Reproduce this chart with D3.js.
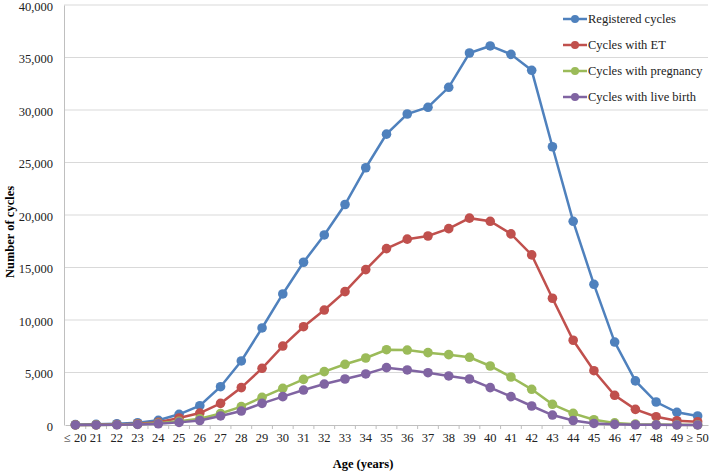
<!DOCTYPE html>
<html>
<head>
<meta charset="utf-8">
<script src="https://cdn.jsdelivr.net/npm/d3@7"></script>
</head>
<body style="margin:0">
<svg id="chart" width="709" height="472" style="font-family: 'Liberation Serif', Tinos, 'Times New Roman'"></svg>
<script>
const ages = ["≤ 20", "21", "22", "23", "24", "25", "26", "27", "28", "29", "30", "31", "32", "33", "34", "35",
  "36", "37", "38", "39", "40", "41", "42", "43", "44", "45", "46", "47", "48", "49", "≥ 50"];

const registered = [40, 60, 120, 220, 450, 1020, 1840, 3650, 6100, 9240, 12480, 15500, 18100, 21000, 24500, 27700,
  29620, 30260, 32160, 35430, 36100, 35300, 33780, 26500, 19400, 13400, 7900, 4200, 2190, 1210, 860];
const withET = [10, 20, 50, 120, 260, 670, 1140, 2060, 3560, 5400, 7520, 9360, 10950, 12700, 14800, 16800,
  17700, 18000, 18700, 19700, 19400, 18200, 16200, 12070, 8070, 5170, 2830, 1490, 790, 410, 310];
const withPregnancy = [5, 10, 30, 70, 170, 350, 600, 1100, 1750, 2640, 3490, 4350, 5080, 5780, 6380, 7170,
  7140, 6890, 6700, 6450, 5620, 4570, 3400, 1970, 1110, 500, 200, 80, 40, 20, 10];
const withLiveBirth = [3, 6, 20, 50, 120, 250, 430, 860, 1330, 2060, 2700, 3330, 3900, 4380, 4860, 5460,
  5240, 4980, 4670, 4380, 3560, 2700, 1810, 950, 430, 150, 60, 25, 12, 6, 3];

const yTicks = [0, 5000, 10000, 15000, 20000, 25000, 30000, 35000, 40000];

const series = [
  { name: "Registered cycles", values: registered, color: "#4F81BD" },
  { name: "Cycles with ET", values: withET, color: "#C0504D" },
  { name: "Cycles with pregnancy", values: withPregnancy, color: "#9BBB59" },
  { name: "Cycles with live birth", values: withLiveBirth, color: "#8064A2" }
];

const svg = d3.select("#chart");
const plotLeft = 65, plotRight = 708, plotTop = 5, plotBottom = 425;

const x = d3.scaleBand().domain(ages).range([plotLeft, plotRight]);
const y = d3.scaleLinear().domain([0, 40000]).range([plotBottom, plotTop]);

// gridlines
svg.append("g")
  .selectAll("line")
  .data(yTicks.slice(1))
  .join("line")
  .attr("x1", plotLeft - 1).attr("x2", plotRight)
  .attr("y1", d => y(d)).attr("y2", d => y(d))
  .attr("stroke", "#d9d9d9").attr("stroke-width", 1);

// y axis
const yAxis = svg.append("g")
  .attr("transform", `translate(${plotLeft - 1},0)`)
  .call(d3.axisLeft(y).tickValues(yTicks).tickFormat(d3.format(",")).tickSize(0).tickPadding(11));
yAxis.attr("font-family", null);
yAxis.select(".domain").attr("stroke", "#bfbfbf");
yAxis.selectAll("text").attr("font-size", 12.5).attr("fill", "#222").attr("dy", "0.4em");

// x axis
const xAxis = svg.append("g")
  .attr("transform", `translate(0,${plotBottom})`)
  .call(d3.axisBottom(x).tickSize(0).tickPadding(8));
xAxis.attr("font-family", null);
xAxis.select(".domain").attr("stroke", "#bfbfbf");
xAxis.selectAll("text").attr("font-size", 12.5).attr("fill", "#222");

// small ticks between categories
xAxis.append("g")
  .selectAll("line")
  .data(ages.slice(1))
  .join("line")
  .attr("x1", d => x(d)).attr("x2", d => x(d))
  .attr("y1", 0).attr("y2", 4)
  .attr("stroke", "#bfbfbf");

// axis titles
svg.append("text")
  .attr("x", 363).attr("y", 468)
  .attr("text-anchor", "middle")
  .attr("font-size", 12.5).attr("font-weight", "bold")
  .text("Age (years)");

svg.append("text")
  .attr("transform", "translate(14,232) rotate(-90)")
  .attr("text-anchor", "middle")
  .attr("font-size", 12.5).attr("font-weight", "bold")
  .text("Number of cycles");

const line = d3.line()
  .x((d, i) => x(ages[i]) + x.bandwidth() / 2)
  .y(d => y(d));

series.forEach(s => {
  const g = svg.append("g");
  g.append("path")
    .attr("d", line(s.values))
    .attr("fill", "none")
    .attr("stroke", s.color)
    .attr("stroke-width", 2.5);
  g.selectAll("circle")
    .data(s.values)
    .join("circle")
    .attr("cx", (d, i) => x(ages[i]) + x.bandwidth() / 2)
    .attr("cy", d => y(d))
    .attr("r", 4.8)
    .attr("fill", s.color);
});

// legend
const legend = svg.append("g").attr("transform", "translate(563,19)");
series.forEach((s, i) => {
  const row = legend.append("g").attr("transform", `translate(0,${i * 26})`);
  row.append("line").attr("x1", 0).attr("x2", 24).attr("y1", 0).attr("y2", 0)
    .attr("stroke", s.color).attr("stroke-width", 2.5);
  row.append("circle").attr("cx", 12).attr("cy", 0).attr("r", 4).attr("fill", s.color);
  row.append("text").attr("x", 25).attr("y", 4)
    .attr("font-size", 12.5).attr("fill", "#222")
    .text(s.name);
});
</script>
</body>
</html>
